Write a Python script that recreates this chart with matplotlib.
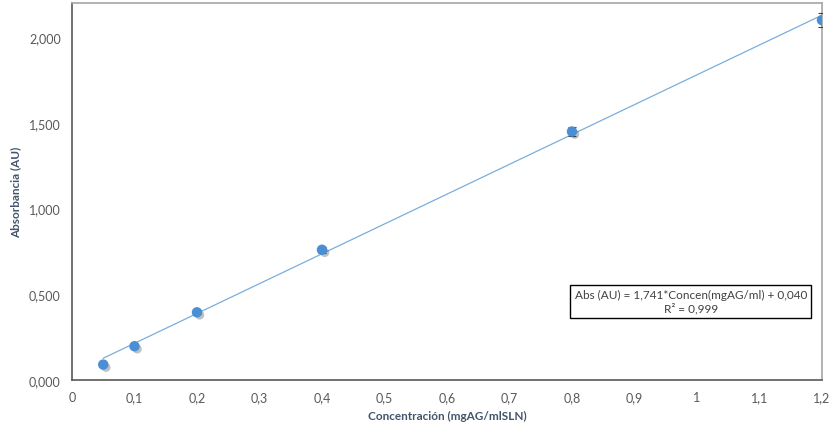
import matplotlib
matplotlib.use("Agg")
import matplotlib.pyplot as plt
import matplotlib.patheffects as pe
from matplotlib.ticker import FuncFormatter, MultipleLocator
import numpy as np

conc = [0.05, 0.1, 0.2, 0.4, 0.8, 1.2]
absorb = [0.090, 0.197, 0.395, 0.760, 1.450, 2.100]
err = [0.005, 0.008, 0.012, 0.018, 0.026, 0.042]
slope, intercept = 1.741, 0.040
eq_text = "Abs (AU) = 1,741*Concen(mgAG/ml) + 0,040\nR² = 0,999"

plt.rcParams['font.family'] = ['Lato', 'DejaVu Sans']

fig = plt.figure(figsize=(8.34, 4.31), dpi=100)
ax = fig.add_axes([0.0863, 0.116, 0.8993, 0.8747])

xs = np.array([conc[0], conc[-1]])
ax.plot(xs, slope * xs + intercept, color='#7AAEDB', lw=0.9, zorder=2)

ax.errorbar(conc, absorb, yerr=err, fmt='none', ecolor='#404040', elinewidth=0.8,
            capsize=3, capthick=0.8, zorder=3)
ax.plot(conc, absorb, 'o', ms=6.5, color='#4A8FD6', mec='#4A8FD6', zorder=4,
        path_effects=[pe.SimplePatchShadow(offset=(2, -2), shadow_rgbFace='#333333', alpha=0.3),
                      pe.Normal()])

ax.set_xlim(0, 1.2)
ax.set_ylim(0, 2.2)
ax.xaxis.set_major_locator(MultipleLocator(0.1))
ax.yaxis.set_major_locator(MultipleLocator(0.5))

def xfmt(v, p):
    s = ('%.1f' % v).rstrip('0').rstrip('.')
    return s.replace('.', ',')
ax.xaxis.set_major_formatter(FuncFormatter(xfmt))
ax.yaxis.set_major_formatter(FuncFormatter(lambda v, p: ('%.3f' % v).replace('.', ',')))

ax.tick_params(length=0, labelsize=9, colors='#595959', pad=8)
for s in ['left', 'bottom']:
    ax.spines[s].set_color('#595959')
    ax.spines[s].set_linewidth(1.2)
for s in ['top', 'right']:
    ax.spines[s].set_color('#A6A6A6')
    ax.spines[s].set_linewidth(1.2)

ax.set_xlabel('Concentración (mgAG/mlSLN)', fontsize=8.5, fontweight='bold', color='#44546A', labelpad=5)
ax.set_ylabel('Absorbancia (AU)', fontsize=8.5, fontweight='bold', color='#44546A', labelpad=6)

ax.text(0.825, 0.209, eq_text, transform=ax.transAxes, ha='center', va='center',
        fontsize=8.5, color='#404040', linespacing=1.25,
        bbox=dict(boxstyle='square,pad=0.35', fc='white', ec='black', lw=1.0))

fig.savefig('out.png', dpi=100, facecolor='white')
